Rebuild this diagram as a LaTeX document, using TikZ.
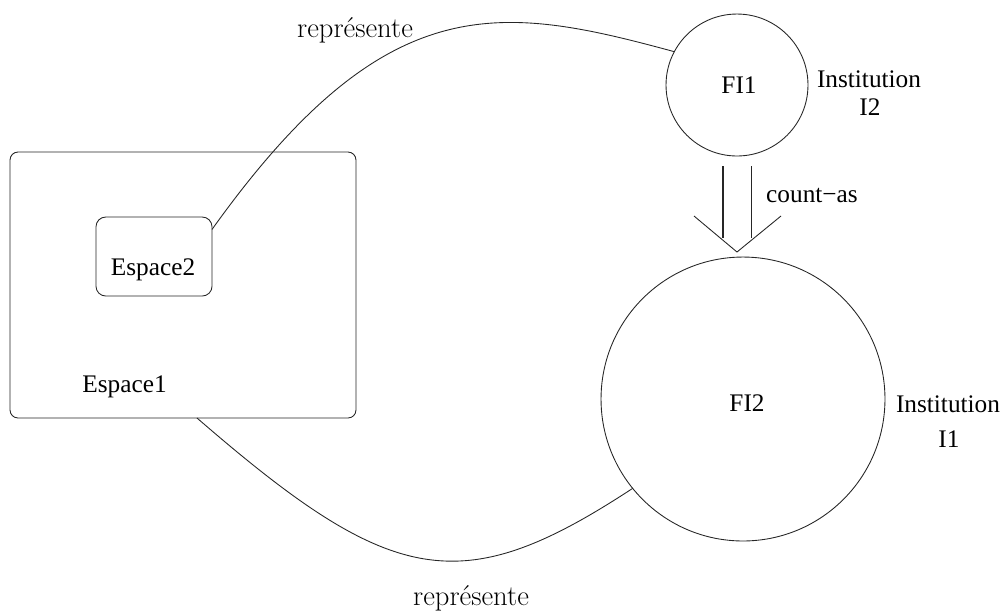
\documentclass[tikz,border=0pt]{standalone}
\usepackage{fontspec}
\setmainfont{Liberation Serif}
\newfontfamily\cmfont{Latin Modern Roman}
\begin{document}
\begin{tikzpicture}[x=0.02cm,y=-0.02cm,
  every node/.style={inner sep=0pt,outer sep=0pt},
  ln/.style={line width=0.5pt,black!85},
  boxA/.style={draw,ln,rectangle,rounded corners=4.5pt},
  circ/.style={draw,ln,circle},
  txt/.style={anchor=base,font=\fontsize{14.4}{16}\selectfont},
  reptxt/.style={anchor=base,font=\cmfont\fontsize{16.3}{18}\selectfont}]
\useasboundingbox (0,0) rectangle (1004,610);
% boxes
\node[boxA,minimum width=6.92cm,minimum height=5.32cm] (e1) at (183,285) {};
\node[boxA,rounded corners=5.5pt,minimum width=2.32cm,minimum height=1.58cm] (e2) at (154,256.5) {};
\node[txt] (e2t) at (153,275) {Espace2};
\node[txt] (e1t) at (124.5,392) {Espace1};
% circles
\node[circ,minimum size=2.84cm] (fi1) at (737,85) {};
\node[circ,minimum size=5.68cm] (fi2) at (743,399) {};
\node[txt] (fi1t) at (739,93) {FI1};
\node[txt] (fi2t) at (747,411) {FI2};
\node[txt] (i2a) at (869,87) {Institution};
\node[txt] (i2b) at (870,115) {I2};
\node[txt] (i1a) at (948,412) {Institution};
\node[txt] (i1b) at (949,447) {I1};
% represente curves
\draw[ln] (e2.25) .. controls (386,-14) and (499,4) .. (fi1.152);
\draw[ln] (e1.-84) .. controls (392,587) and (461,601) .. (fi2.219);
\node[reptxt] (r1) at (355,37) {représente};
\node[reptxt] (r2) at (471,605) {représente};
% count-as arrow
\coordinate (la) at (723,166);
\coordinate (lb) at (723,238);
\coordinate (ra) at (751,166);
\coordinate (rb) at (751,238);
\coordinate (wl) at (694,216);
\coordinate (tip) at (737,252);
\coordinate (wr) at (781,216);
\draw[line width=1.1pt,black!85] (la) -- (lb);
\draw[ln] (ra) -- (rb);
\draw[ln] (wl) -- (tip) -- (wr);
\node[txt] (ca) at (812,202) {count−as};
\end{tikzpicture}
\end{document}
